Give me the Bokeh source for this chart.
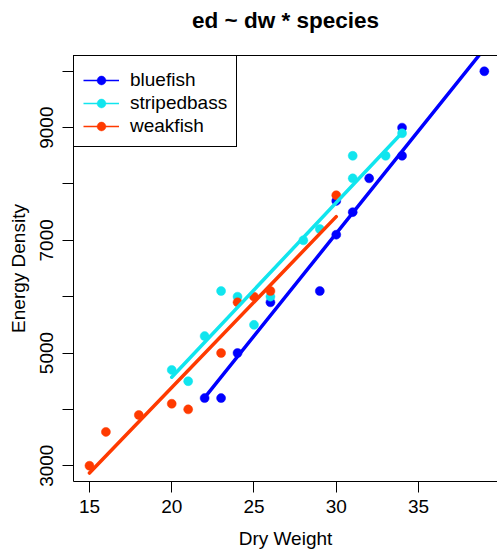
from bokeh.plotting import figure
from bokeh.models import FixedTicker, LinearAxis, Range1d, Legend, LegendItem
from bokeh.embed import file_html
from bokeh.resources import INLINE

# ---- data ----
species = ["bluefish", "stripedbass", "weakfish"]
colors = ["#0000FF", "#11E5EE", "#FF3A00"]

blue_dw = [22, 23, 24, 26, 29, 30, 30, 31, 32, 34, 34, 39]
blue_ed = [4200, 4200, 5000, 5900, 6100, 7100, 7700, 7500, 8100, 8500, 9000, 10000]
striped_dw = [20, 21, 22, 23, 24, 25, 26, 28, 29, 31, 31, 33, 34]
striped_ed = [4700, 4500, 5300, 6100, 6000, 5500, 6000, 7000, 7200, 8100, 8500, 8500, 8900]
weak_dw = [15, 16, 18, 20, 21, 23, 24, 25, 26, 30]
weak_ed = [3000, 3600, 3900, 4100, 4000, 5000, 5900, 6000, 6100, 7800]

# fitted lines (per species)
fit_dw_start = [22, 20, 15]
fit_dw_end = [39, 34, 30]
fit_ed_start = [4210, 4570, 2870]
fit_ed_end = [10400, 8910, 7420]

x_ticks = [15, 20, 25, 30, 35]
y_ticks = [3000, 4000, 5000, 6000, 7000, 8000, 9000, 10000]
y_tick_labels = ["3000", "", "5000", "", "7000", "", "9000", ""]

title_text = "ed ~ dw * species"
x_label = "Dry Weight"
y_label = "Energy Density"

FONT = "Liberation Sans"
NAN = float("nan")

p = figure(width=497, height=551,
           x_range=Range1d(14.03, 39.80), y_range=Range1d(2720, 10280),
           output_backend="svg", toolbar_location=None,
           min_border_left=73, min_border_right=0,
           min_border_top=55, min_border_bottom=69,
           x_axis_label=x_label, y_axis_label=y_label)
p.outline_line_color = None
p.grid.visible = False
p.background_fill_color = "white"
p.border_fill_color = "white"

p.title.text = title_text
p.title.align = "center"
p.title.text_font = FONT
p.title.text_font_size = "22.5px"
p.title.text_font_style = "bold"
p.title.text_color = "black"
p.title.standoff = 8

for ax in p.xaxis + p.yaxis:
    ax.axis_line_color = "black"
    ax.major_tick_line_color = "black"
    ax.major_tick_in = 0
    ax.major_tick_out = 11
    ax.minor_tick_line_color = None
    ax.major_label_text_font = FONT
    ax.major_label_text_font_size = "19px"
    ax.major_label_text_color = "black"
    ax.axis_label_text_font = FONT
    ax.axis_label_text_font_size = "19px"
    ax.axis_label_text_font_style = "normal"
    ax.axis_label_text_color = "black"

p.xaxis.ticker = FixedTicker(ticks=x_ticks)
p.xaxis.major_label_standoff = 7
p.xaxis.axis_label_standoff = 12

p.yaxis.ticker = FixedTicker(ticks=y_ticks)
p.yaxis.major_label_overrides = {t: l for t, l in zip(y_ticks, y_tick_labels)}
p.yaxis.major_label_orientation = "vertical"
p.yaxis.major_label_standoff = 9
p.yaxis.axis_label_standoff = 9

# top border line of the box (the right side lies just outside the window);
# its blank label only reserves room between the box and the title
top_axis = LinearAxis(ticker=FixedTicker(ticks=[]), major_tick_out=0, major_tick_in=0,
                      minor_tick_out=0, minor_tick_in=0,
                      major_tick_line_color=None, minor_tick_line_color=None,
                      major_label_text_font_size="0px", major_label_standoff=0,
                      axis_label=" ", axis_label_text_font_size="1px",
                      axis_label_standoff=15, axis_line_color="black")
p.add_layout(top_axis, "above")

groups = [(blue_dw, blue_ed), (striped_dw, striped_ed), (weak_dw, weak_ed)]
scatters = []
for (dw, ed), c in zip(groups, colors):
    r = p.scatter(x=dw, y=ed, size=9, fill_color=c, line_color=c, line_width=0.5)
    scatters.append(r)

for i, c in enumerate(colors):
    p.line(x=[fit_dw_start[i], fit_dw_end[i]], y=[fit_ed_start[i], fit_ed_end[i]],
           line_color=c, line_width=3.5, line_cap="round")

items = []
for i, (name, c) in enumerate(zip(species, colors)):
    ln = p.line(x=[NAN], y=[NAN], line_color=c, line_width=1.3)
    items.append(LegendItem(label=name, renderers=[ln, scatters[i]]))

legend = Legend(items=items, location="top_left", margin=0, padding=9,
                spacing=1, glyph_width=36, glyph_height=22, label_height=20,
                label_standoff=11, label_text_font=FONT, label_text_font_size="19px",
                label_text_color="black", border_line_color="black", border_line_width=1,
                border_line_alpha=1, background_fill_color="white", background_fill_alpha=1,
                title=" ", title_text_font_size="1px", title_standoff=3)
p.add_layout(legend, "center")

open("out.html", "w").write(file_html(p, INLINE))
